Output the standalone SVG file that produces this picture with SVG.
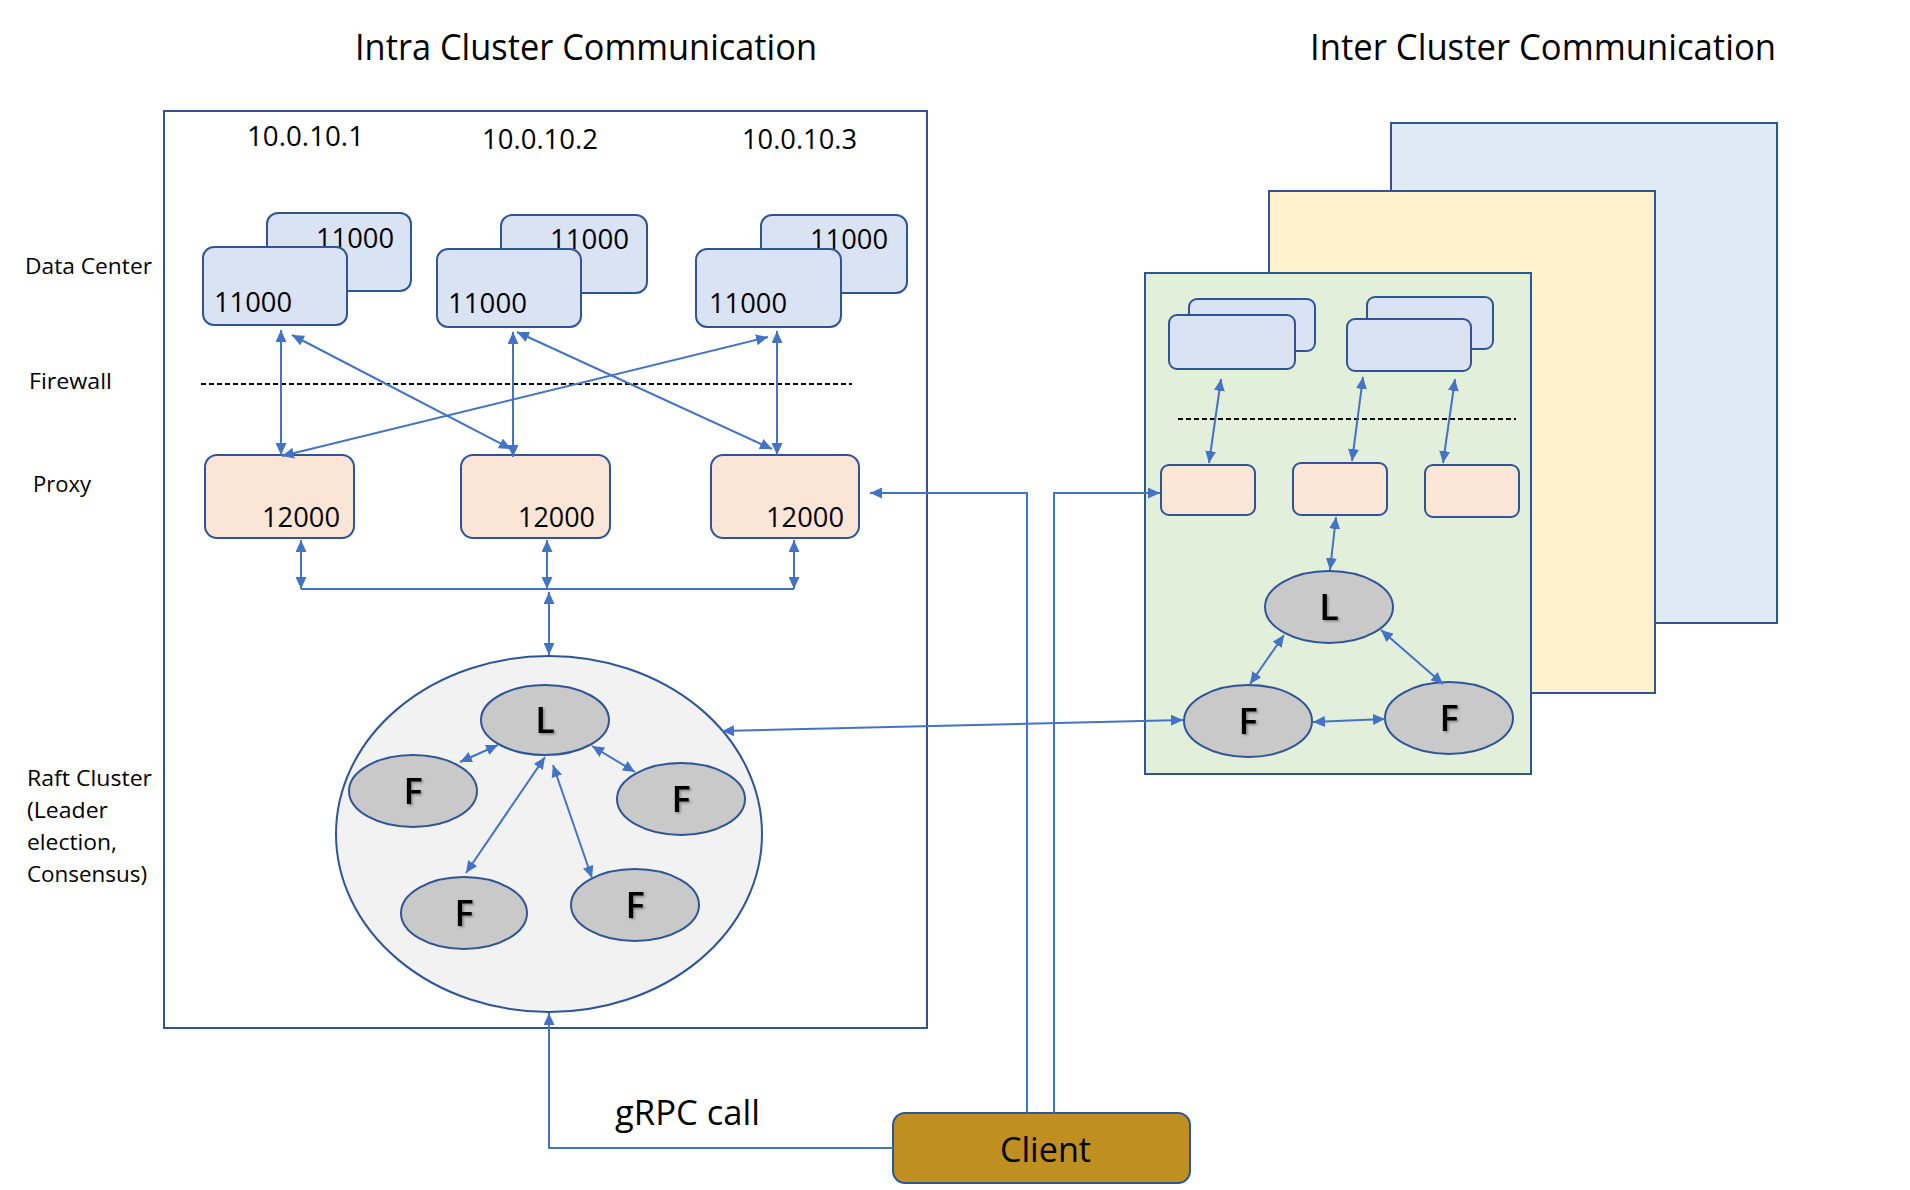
<svg xmlns="http://www.w3.org/2000/svg" width="1910" height="1190" viewBox="0 0 1910 1190">
<style>
  text { font-family: "Open Sans", "Noto Sans", "Liberation Sans", sans-serif; fill: #000; }
  .title { font-size: 37px; }
  .side { font-size: 21.5px; }
  .ip { font-size: 27px; }
  .port { font-size: 28px; }
  .node { font-size: 36px; font-weight: 600; text-anchor: middle; filter: url(#shadow); }
  .big { font-size: 35px; }
  .frame { fill: #fff; stroke: #2F5597; stroke-width: 2; }
  .dc { fill: #DAE3F3; stroke: #2F5597; stroke-width: 2; }
  .px { fill: #FBE5D6; stroke: #2F5597; stroke-width: 2; }
  .el { fill: #C9C9C9; stroke: #2F5597; stroke-width: 2; }
  .fw { stroke: #000; stroke-width: 2; stroke-dasharray: 5 3; fill: none; }
  .ar { stroke: #4472C4; stroke-width: 2; fill: none; }
  .dbl { marker-start: url(#ah); marker-end: url(#ah); }
  .one { marker-end: url(#ah); }
</style>
<defs>
  <marker id="ah" markerUnits="userSpaceOnUse" markerWidth="13" markerHeight="11" refX="12" refY="5.5" orient="auto-start-reverse">
    <path d="M0,0 L12,5.5 L0,11 z" fill="#4472C4"/>
  </marker>
  <filter id="shadow" x="-30%" y="-30%" width="160%" height="160%">
    <feDropShadow dx="1.5" dy="1.5" stdDeviation="1" flood-color="#000" flood-opacity="0.35"/>
  </filter>
</defs>
<rect width="1910" height="1190" fill="#fff"/>

<text class="title" x="355" y="60" textLength="462" lengthAdjust="spacingAndGlyphs">Intra Cluster Communication</text>
<text class="title" x="1310" y="60" textLength="466" lengthAdjust="spacingAndGlyphs">Inter Cluster Communication</text>

<g id="side-labels">
  <text class="side" x="25" y="274" textLength="127" lengthAdjust="spacingAndGlyphs">Data Center</text>
  <text class="side" x="29" y="389" textLength="83" lengthAdjust="spacingAndGlyphs">Firewall</text>
  <text class="side" x="33" y="492" textLength="58" lengthAdjust="spacingAndGlyphs">Proxy</text>
  <text class="side" x="27" y="786" textLength="125" lengthAdjust="spacingAndGlyphs">Raft Cluster</text>
  <text class="side" x="27" y="818" textLength="81" lengthAdjust="spacingAndGlyphs">(Leader</text>
  <text class="side" x="27" y="850" textLength="90" lengthAdjust="spacingAndGlyphs">election,</text>
  <text class="side" x="27" y="882" textLength="120" lengthAdjust="spacingAndGlyphs">Consensus)</text>
</g>

<g id="intra-cluster">
  <rect class="frame" x="164" y="111" width="763" height="917"/>
  <text class="ip" x="247" y="146" textLength="117" lengthAdjust="spacingAndGlyphs">10.0.10.1</text>
  <text class="ip" x="482" y="149" textLength="116" lengthAdjust="spacingAndGlyphs">10.0.10.2</text>
  <text class="ip" x="742" y="149" textLength="115" lengthAdjust="spacingAndGlyphs">10.0.10.3</text>
  <line class="fw" x1="201" y1="384" x2="852" y2="384"/>
</g>

<g id="dc1">
  <rect class="dc" x="267" y="213" width="144" height="78" rx="11"/>
  <text class="port" x="316" y="248" textLength="78" lengthAdjust="spacingAndGlyphs">11000</text>
  <rect class="dc" x="203" y="247" width="144" height="78" rx="11"/>
  <text class="port" x="214" y="312" textLength="78" lengthAdjust="spacingAndGlyphs">11000</text>
</g>
<g id="dc2">
  <rect class="dc" x="501" y="215" width="146" height="78" rx="11"/>
  <text class="port" x="550" y="249" textLength="79" lengthAdjust="spacingAndGlyphs">11000</text>
  <rect class="dc" x="437" y="249" width="144" height="78" rx="11"/>
  <text class="port" x="448" y="313" textLength="79" lengthAdjust="spacingAndGlyphs">11000</text>
</g>
<g id="dc3">
  <rect class="dc" x="761" y="215" width="146" height="78" rx="11"/>
  <text class="port" x="810" y="249" textLength="78" lengthAdjust="spacingAndGlyphs">11000</text>
  <rect class="dc" x="696" y="249" width="145" height="78" rx="11"/>
  <text class="port" x="709" y="313" textLength="78" lengthAdjust="spacingAndGlyphs">11000</text>
</g>

<g id="proxy1">
  <rect class="px" x="205" y="455" width="149" height="83" rx="12"/>
  <text class="port" x="262" y="527" textLength="78" lengthAdjust="spacingAndGlyphs">12000</text>
</g>
<g id="proxy2">
  <rect class="px" x="461" y="455" width="149" height="83" rx="12"/>
  <text class="port" x="518" y="527" textLength="77" lengthAdjust="spacingAndGlyphs">12000</text>
</g>
<g id="proxy3">
  <rect class="px" x="711" y="455" width="148" height="83" rx="12"/>
  <text class="port" x="766" y="527" textLength="78" lengthAdjust="spacingAndGlyphs">12000</text>
</g>

<g id="raft-cluster">
  <ellipse cx="549" cy="834" rx="213" ry="178" fill="#F2F2F2" stroke="#2F5597" stroke-width="2"/>
</g>
<g id="raft-L">
  <ellipse class="el" cx="545" cy="720" rx="64" ry="35"/>
  <text class="node" x="545" y="733">L</text>
</g>
<g id="raft-F1">
  <ellipse class="el" cx="413" cy="791" rx="64" ry="36"/>
  <text class="node" x="413" y="804">F</text>
</g>
<g id="raft-F2">
  <ellipse class="el" cx="681" cy="799" rx="64" ry="36"/>
  <text class="node" x="681" y="812">F</text>
</g>
<g id="raft-F3">
  <ellipse class="el" cx="464" cy="913" rx="63" ry="36"/>
  <text class="node" x="464" y="926">F</text>
</g>
<g id="raft-F4">
  <ellipse class="el" cx="635" cy="905" rx="64" ry="36"/>
  <text class="node" x="635" y="918">F</text>
</g>

<g id="inter-cluster-back">
  <rect x="1391" y="123" width="386" height="500" fill="#DEEAF6" stroke="#2F5597" stroke-width="2"/>
</g>
<g id="inter-cluster-middle">
  <rect x="1269" y="191" width="386" height="502" fill="#FFF2CC" stroke="#2F5597" stroke-width="2"/>
</g>
<g id="inter-cluster-front">
  <rect x="1145" y="273" width="386" height="501" fill="#E2EFDA" stroke="#2F5597" stroke-width="2"/>
  <line class="fw" x1="1178" y1="419" x2="1516" y2="419"/>
</g>
<g id="inter-dc1">
  <rect class="dc" x="1189" y="299" width="126" height="52" rx="8"/>
  <rect class="dc" x="1169" y="315" width="126" height="54" rx="8"/>
</g>
<g id="inter-dc2">
  <rect class="dc" x="1367" y="297" width="126" height="52" rx="8"/>
  <rect class="dc" x="1347" y="319" width="124" height="52" rx="8"/>
</g>
<g id="inter-proxy1"><rect class="px" x="1161" y="465" width="94" height="50" rx="8"/></g>
<g id="inter-proxy2"><rect class="px" x="1293" y="463" width="94" height="52" rx="8"/></g>
<g id="inter-proxy3"><rect class="px" x="1425" y="465" width="94" height="52" rx="8"/></g>
<g id="inter-L">
  <ellipse class="el" cx="1329" cy="607" rx="64" ry="36"/>
  <text class="node" x="1329" y="620">L</text>
</g>
<g id="inter-F1">
  <ellipse class="el" cx="1248" cy="721" rx="64" ry="36"/>
  <text class="node" x="1248" y="734">F</text>
</g>
<g id="inter-F2">
  <ellipse class="el" cx="1449" cy="718" rx="64" ry="36"/>
  <text class="node" x="1449" y="731">F</text>
</g>

<g id="client">
  <rect x="893" y="1113" width="297" height="70" rx="12" fill="#BF8F20" stroke="#2F5597" stroke-width="2"/>
  <text class="big" x="1000" y="1162" textLength="91" lengthAdjust="spacingAndGlyphs">Client</text>
</g>
<text class="big" x="615" y="1125" textLength="145" lengthAdjust="spacingAndGlyphs">gRPC call</text>

<g id="connectors">
  <line class="ar dbl" x1="281" y1="330" x2="281" y2="455"/>
  <line class="ar dbl" x1="292" y1="335" x2="511" y2="449"/>
  <line class="ar dbl" x1="513" y1="332" x2="513" y2="457"/>
  <line class="ar dbl" x1="517" y1="332" x2="772" y2="449"/>
  <line class="ar dbl" x1="777" y1="331" x2="777" y2="455"/>
  <line class="ar dbl" x1="282" y1="456" x2="768" y2="337"/>

  <line class="ar dbl" x1="301" y1="540" x2="301" y2="589"/>
  <line class="ar dbl" x1="547" y1="540" x2="547" y2="589"/>
  <line class="ar dbl" x1="794" y1="540" x2="794" y2="589"/>
  <line class="ar" x1="301" y1="589" x2="794" y2="589"/>
  <line class="ar dbl" x1="549" y1="592" x2="549" y2="655"/>

  <line class="ar dbl" x1="498" y1="745" x2="460" y2="762"/>
  <line class="ar dbl" x1="592" y1="746" x2="635" y2="772"/>
  <line class="ar dbl" x1="545" y1="757" x2="466" y2="873"/>
  <line class="ar dbl" x1="553" y1="765" x2="592" y2="878"/>

  <line class="ar dbl" x1="722" y1="731" x2="1183" y2="720"/>

  <polyline class="ar one" points="893,1148 549,1148 549,1013"/>
  <polyline class="ar one" points="1027,1113 1027,493 870,493"/>
  <polyline class="ar one" points="1054,1113 1054,493 1160,493"/>

  <line class="ar dbl" x1="1221" y1="379" x2="1209" y2="463"/>
  <line class="ar dbl" x1="1363" y1="377" x2="1352" y2="461"/>
  <line class="ar dbl" x1="1455" y1="379" x2="1443" y2="463"/>
  <line class="ar dbl" x1="1336" y1="517" x2="1330" y2="570"/>
  <line class="ar dbl" x1="1284" y1="635" x2="1250" y2="684"/>
  <line class="ar dbl" x1="1381" y1="630" x2="1443" y2="684"/>
  <line class="ar dbl" x1="1313" y1="722" x2="1385" y2="719"/>
</g>
</svg>
